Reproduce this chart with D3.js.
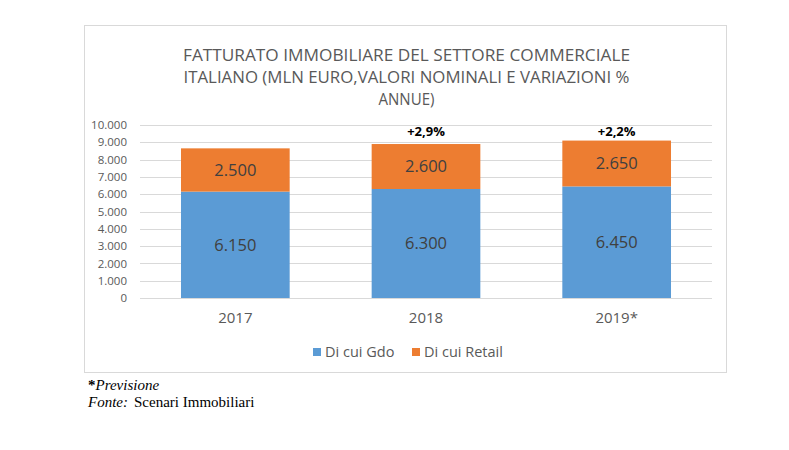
<!DOCTYPE html>
<html>
<head>
<meta charset="utf-8">
<script src="https://cdn.jsdelivr.net/npm/d3@7"></script>
<style>
  html, body { margin: 0; padding: 0; background: #ffffff; }
  svg { display: block; }
</style>
</head>
<body>
<svg id="chart" width="789" height="450"></svg>
<script>
// ---- Data ----
const titleLines = [
  "FATTURATO IMMOBILIARE DEL SETTORE COMMERCIALE",
  "ITALIANO (MLN EURO,VALORI NOMINALI E VARIAZIONI %",
  "ANNUE)"
];
const categories = ["2017", "2018", "2019*"];
const seriesNames = ["Di cui Gdo", "Di cui Retail"];
const gdoValues = [6150, 6300, 6450];
const retailValues = [2500, 2600, 2650];
const growthLabels = ["", "+2,9%", "+2,2%"];
const yTicks = [0, 1000, 2000, 3000, 4000, 5000, 6000, 7000, 8000, 9000, 10000];
const footNote = "Previsione";
const sourceLabel = "Fonte:";
const sourceText = "Scenari Immobiliari";

// ---- Setup ----
const colors = ["#5b9bd5", "#ed7d31"];
const locale = d3.formatLocale({decimal: ",", thousands: ".", grouping: [3], currency: ["", "€"]});
const fmt = locale.format(",d");
const sans = "'Open Sans', 'Noto Sans', sans-serif";
const serif = "'Liberation Serif', 'DejaVu Serif', serif";

const svg = d3.select("#chart");

// chart frame
svg.append("rect")
  .attr("x", 84.5).attr("y", 25.5)
  .attr("width", 642).attr("height", 347)
  .attr("fill", "#ffffff")
  .attr("stroke", "#d9d9d9").attr("stroke-width", 1);

// title
const titleWidths = [447, 446, 56];
const titleBase = [61, 83, 105];
titleLines.forEach((t, i) => {
  svg.append("text")
    .attr("x", 406.5).attr("y", titleBase[i])
    .attr("text-anchor", "middle")
    .attr("font-family", sans)
    .attr("font-size", 17)
    .attr("fill", "#595959")
    .attr("textLength", titleWidths[i])
    .attr("lengthAdjust", "spacingAndGlyphs")
    .text(t);
});

// scales
const x = d3.scaleBand().domain(categories).range([140, 712]).paddingInner(0.43).paddingOuter(0.215);
const y = d3.scaleLinear().domain([0, 10000]).range([298, 125]);

// gridlines
svg.append("g").selectAll("line").data(yTicks).join("line")
  .attr("x1", 140).attr("x2", 712)
  .attr("y1", d => Math.round(y(d)) + 0.5).attr("y2", d => Math.round(y(d)) + 0.5)
  .attr("stroke", "#d9d9d9").attr("stroke-width", 1);

// y axis
const yAxis = svg.append("g")
  .attr("transform", "translate(140,0)")
  .call(d3.axisLeft(y).tickValues(yTicks).tickFormat(fmt).tickSize(0).tickPadding(13));
yAxis.select(".domain").remove();
yAxis.selectAll("text")
  .attr("font-family", sans).attr("font-size", 11.5).attr("fill", "#595959");

// x axis
const xAxis = svg.append("g")
  .attr("transform", "translate(0,298)")
  .call(d3.axisBottom(x).tickSize(0).tickPadding(14));
xAxis.select(".domain").remove();
xAxis.selectAll("text")
  .attr("font-family", sans).attr("font-size", 15).attr("fill", "#595959");

// stacked bars
const rows = categories.map((c, i) => ({cat: c, gdo: gdoValues[i], retail: retailValues[i]}));
const stack = d3.stack().keys(["gdo", "retail"])(rows);

const layers = svg.append("g").selectAll("g").data(stack).join("g")
  .attr("fill", (d, i) => colors[i]);
layers.selectAll("rect").data(d => d).join("rect")
  .attr("x", d => x(d.data.cat))
  .attr("width", x.bandwidth())
  .attr("y", d => y(d[1]))
  .attr("height", d => y(d[0]) - y(d[1]));

// value labels
const labelG = svg.append("g");
stack.forEach(layer => {
  layer.forEach(d => {
    labelG.append("text")
      .attr("x", x(d.data.cat) + x.bandwidth() / 2)
      .attr("y", (y(d[0]) + y(d[1])) / 2)
      .attr("dy", "0.35em")
      .attr("text-anchor", "middle")
      .attr("font-family", sans)
      .attr("font-size", 16.5)
      .attr("fill", "#404040")
      .text(fmt(d[1] - d[0]));
  });
});

// growth labels
categories.forEach((c, i) => {
  if (!growthLabels[i]) return;
  svg.append("text")
    .attr("x", x(c) + x.bandwidth() / 2)
    .attr("y", y(9650))
    .attr("dy", "0.35em")
    .attr("text-anchor", "middle")
    .attr("font-family", sans)
    .attr("font-size", 13)
    .attr("font-weight", "bold")
    .attr("fill", "#000000")
    .text(growthLabels[i]);
});

// legend
const legendX = [313, 412];
seriesNames.forEach((n, i) => {
  svg.append("rect")
    .attr("x", legendX[i]).attr("y", 348)
    .attr("width", 8).attr("height", 8)
    .attr("fill", colors[i]);
  svg.append("text")
    .attr("x", legendX[i] + 12).attr("y", 352)
    .attr("dy", "0.35em")
    .attr("font-family", sans)
    .attr("font-size", 14.5)
    .attr("fill", "#595959")
    .text(n);
});

// footnotes
const f1 = svg.append("text").attr("x", 88).attr("y", 390)
  .attr("font-family", serif).attr("font-size", 15).attr("fill", "#000");
f1.append("tspan").attr("font-weight", "bold").text("*");
f1.append("tspan").attr("font-style", "italic").text(footNote);

const f2 = svg.append("text").attr("x", 88).attr("y", 407)
  .attr("font-family", serif).attr("font-size", 15).attr("fill", "#000");
f2.append("tspan").attr("font-style", "italic").text(sourceLabel);
f2.append("tspan").attr("dx", 6).text(sourceText);
</script>
</body>
</html>
